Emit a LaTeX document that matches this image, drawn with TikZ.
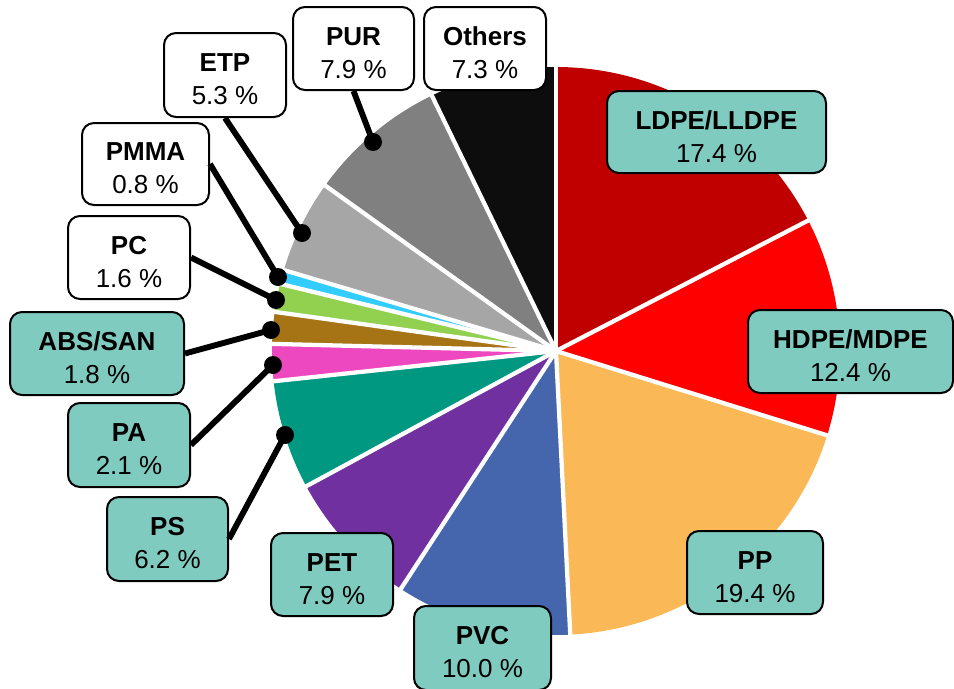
\documentclass[tikz,border=0pt]{standalone}
\usepackage{fontspec}
\setmainfont{Liberation Sans}
\definecolor{cLDPE}{HTML}{C00000}
\definecolor{cHDPE}{HTML}{FF0000}
\definecolor{cPP}{HTML}{FAB856}
\definecolor{cPVC}{HTML}{4566AD}
\definecolor{cPET}{HTML}{7030A0}
\definecolor{cPS}{HTML}{009880}
\definecolor{cPA}{HTML}{EE48C0}
\definecolor{cABS}{HTML}{A67415}
\definecolor{cPC}{HTML}{92D050}
\definecolor{cPMMA}{HTML}{33CCFF}
\definecolor{cETP}{HTML}{A6A6A6}
\definecolor{cPUR}{HTML}{808080}
\definecolor{cOTH}{HTML}{0D0D0D}
\definecolor{boxteal}{HTML}{80CBC0}
\tikzset{
  pbox/.style={draw=black, line width=1.5pt, rounded corners=9pt, inner sep=0pt},
  ptext/.style={align=center, inner sep=0pt, font=\fontsize{19.5}{24.75}\selectfont},
  conn/.style={draw=black, line width=4.4pt},
  sep/.style={draw=white, line width=3.2pt}
}
\newcommand\plabel[8]{%
  \node[pbox, fill=#2, minimum width=#5*0.75pt, minimum height=#6*0.75pt] (#1) at (#3,-#4) {};
  \node[ptext] (#1T) at ([yshift=-3.4pt]#1.center) {\textbf{#7}\\#8};
}
\begin{document}
\begin{tikzpicture}[x=0.75pt,y=0.75pt]
\useasboundingbox (0,0) rectangle (954,-689);
\coordinate (c) at (556,-351);
% pie slices
\foreach \a/\b/\col in {90/27.36/cLDPE, 27.36/-17.28/cHDPE, -17.28/-87.12/cPP,
  -87.12/-123.12/cPVC, -123.12/-151.56/cPET, -151.56/-173.88/cPS,
  -173.88/-181.44/cPA, -181.44/-187.92/cABS, -187.92/-193.68/cPC,
  -193.68/-196.56/cPMMA, -196.56/-215.64/cETP, -215.64/-244.08/cPUR,
  -244.08/-270/cOTH}
  \fill[\col] (c) -- ++(\a:213pt) arc[start angle=\a, end angle=\b, radius=213pt] -- cycle;
\foreach \a in {90,27.36,-17.28,-87.12,-123.12,-151.56,-173.88,-181.44,-187.92,-193.68,-196.56,-215.64,-244.08}
  \draw[sep] (c) -- ++(\a:214pt);
% labels
\plabel{ldpe}{boxteal}{716.5}{132}{219}{82}{LDPE/LLDPE}{17.4 \%}
\plabel{hdpe}{boxteal}{850.5}{351.5}{205}{83}{HDPE/MDPE}{12.4 \%}
\plabel{pp}{boxteal}{755}{572.5}{136}{83}{PP}{19.4 \%}
\plabel{pvc}{boxteal}{482.5}{648}{137}{84}{PVC}{10.0 \%}
\plabel{pet}{boxteal}{332}{574.5}{122}{83}{PET}{7.9 \%}
\plabel{ps}{boxteal}{167.5}{539}{121}{84}{PS}{6.2 \%}
\plabel{pa}{boxteal}{129}{445}{122}{84}{PA}{2.1 \%}
\plabel{abs}{boxteal}{97}{353.5}{174}{83}{ABS/SAN}{1.8 \%}
\plabel{pc}{white}{129}{257.5}{122}{83}{PC}{1.6 \%}
\plabel{pmma}{white}{145.5}{164}{127}{82}{PMMA}{0.8 \%}
\plabel{etp}{white}{225}{75}{122}{84}{ETP}{5.3 \%}
\plabel{pur}{white}{353.5}{48.5}{121}{83}{PUR}{7.9 \%}
\plabel{oth}{white}{485}{48.5}{122}{83}{Others}{7.3 \%}
% connector ends
\coordinate (dpur) at (373,-142);
\coordinate (detp) at (302,-233);
\coordinate (dpmma) at (278,-277);
\coordinate (dpc) at (276,-300);
\coordinate (dabs) at (271,-330);
\coordinate (dpa) at (273,-365);
\coordinate (dps) at (285,-435);
\draw[conn] (pur.south) -- (dpur);
\draw[conn] (etp.south) -- (detp);
\draw[conn] (pmma.east) -- (dpmma);
\draw[conn] (pc.east) -- (dpc);
\draw[conn] (abs.east) -- (dabs);
\draw[conn] (pa.east) -- (dpa);
\draw[conn] (ps.east) -- (dps);
\foreach \d in {dpur,detp,dpmma,dpc,dabs,dpa,dps}
  \fill[black] (\d) circle (6.75pt);
\end{tikzpicture}
\end{document}
